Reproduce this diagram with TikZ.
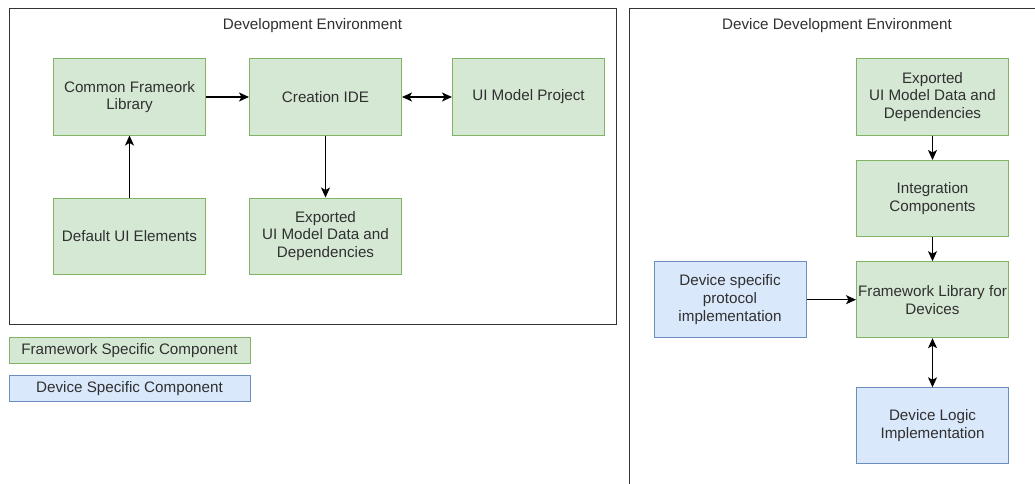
\documentclass[tikz,border=0pt]{standalone}
\usepackage{fontspec}
\setmainfont{Liberation Sans}
\usetikzlibrary{arrows.meta}
\definecolor{fsfill}{HTML}{D5E8D4}
\definecolor{fsline}{HTML}{82B366}
\definecolor{dsfill}{HTML}{DAE8FC}
\definecolor{dsline}{HTML}{6C8EBF}
\definecolor{txt}{HTML}{303030}
\definecolor{frame}{HTML}{333333}
\begin{document}
\begin{tikzpicture}[x=1pt,y=-1pt,
  every node/.style={font=\fontsize{15.2}{17.8}\selectfont, text=txt},
  comp/.style={rectangle, draw, line width=1pt, align=center, inner sep=1pt,
    minimum width=152pt, minimum height=76pt},
  fwcomp/.style={comp, fill=fsfill, draw=fsline},
  devcomp/.style={comp, fill=dsfill, draw=dsline},
  legendbox/.style={rectangle, draw, line width=1pt, align=center, inner sep=1pt,
    minimum width=241pt, minimum height=26pt},
  envframe/.style={draw=frame, line width=1pt},
  tip/.tip={Stealth[length=10pt,width=9pt,inset=2.5pt]},
  link/.style={draw=black, line width=1.2pt, -tip},
  dlink/.style={draw=black, line width=1.2pt, tip-tip}
]
\useasboundingbox (0,0) rectangle (1035,484);

% Development environment frame
\draw[envframe] (9,9) rectangle (616,324);
\node (devtitle) at (312.5,25.5) {Development Environment};

% Device development environment frame (open to the right and below)
\coordinate (ddbot) at (629,484);
\coordinate (ddtl) at (629,9);
\coordinate (ddtr) at (1035,9);
\draw[envframe] (ddbot) -- (ddtl) -- (ddtr);
\node (ddtitle) at (837,25.5) {Device Development Environment};

% Development environment components
\node[fwcomp] (cfl) at (129.5,97) {Common Frameork\\Library};
\node[fwcomp] (ide) at (325.5,97) {Creation IDE};
\node[fwcomp] (uimp) at (528.5,97) {UI Model Project};
\node[fwcomp] (dui) at (129.5,236) {Default UI Elements};
\node[fwcomp] (exl) at (325.5,236) {Exported\\UI Model Data and\\Dependencies};

% Device development environment components
\node[fwcomp] (exr) at (932.5,97) {Exported\\UI Model Data and\\Dependencies};
\node[fwcomp] (integ) at (932.5,198.5) {Integration\\Components};
\node[fwcomp] (fld) at (932.5,299.7) {Framework Library for\\Devices};
\node[devcomp] (dsp) at (730,299.7) {Device specific\\protocol\\implementation};
\node[devcomp] (dli) at (932.5,425.8) {Device Logic\\Implementation};

% Legend
\node[legendbox, fill=fsfill, draw=fsline] (lgfw) at (129.5,350.3) {Framework Specific Component};
\node[legendbox, fill=dsfill, draw=dsline] (lgdev) at (129.5,388.2) {Device Specific Component};

% Connectors
\draw[link] (cfl) -- (ide);
\draw[dlink] (ide) -- (uimp);
\draw[link] (ide) -- (exl);
\draw[link] (dui) -- (cfl);
\draw[link] (exr) -- (integ);
\draw[link] (integ) -- (fld);
\draw[link] (dsp) -- (fld);
\draw[dlink] (fld) -- (dli);
\end{tikzpicture}
\end{document}
